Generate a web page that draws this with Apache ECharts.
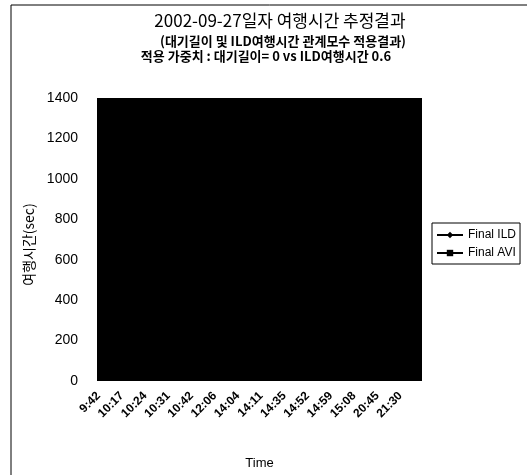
<!DOCTYPE html>
<html>
<head>
<meta charset="utf-8">
<script src="https://cdn.jsdelivr.net/npm/echarts@6/dist/echarts.min.js"></script>
<style>
  html, body { margin: 0; padding: 0; background: #fff; }
  #chart { width: 527px; height: 475px; }
</style>
</head>
<body>
<div id="chart"></div>
<script>
// 시간 구간 (x축 라벨)
const times = ["9:42", "10:17", "10:24", "10:31", "10:42", "12:06", "14:04",
  "14:11", "14:35", "14:52", "14:59", "15:08", "20:45", "21:30"];
// 여행시간 추정값 (sec)
const finalILD = [470, 1360, 120, 1350, 90, 1370, 60, 1320, 150, 1365, 80, 1360, 110, 1300];
const finalAVI = [370, 1290, 40, 1370, 30, 1310, 130, 1365, 40, 1280, 30, 1370, 50, 1350];
const yTicks = { min: 0, max: 1400, interval: 200 };

const chart = echarts.init(document.getElementById("chart"));
const latin = "'Liberation Sans', Arial, 'Noto Sans CJK KR', sans-serif";
const korean = "'Noto Sans CJK KR', 'Liberation Sans', sans-serif";

const option = {
  backgroundColor: "#fff",
  animation: false,
  graphic: [
    {
      type: "rect",
      shape: { x: 11, y: 5, width: 600, height: 600 },
      style: { fill: "none", stroke: "#000", lineWidth: 1 }
    },
    {
      type: "text", x: 280, y: 12,
      style: { text: "2002-09-27일자 여행시간 추정결과", font: "17px " + korean, fill: "#000", textAlign: "center" }
    },
    {
      type: "text", x: 283, y: 35,
      style: { text: "(대기길이 및 ILD여행시간 관계모수 적용결과)", font: "bold 13px " + korean, fill: "#000", textAlign: "center" }
    },
    {
      type: "text", x: 266, y: 50,
      style: { text: "적용 가중치 : 대기길이= 0 vs ILD여행시간 0.6", font: "bold 13px " + korean, fill: "#000", textAlign: "center" }
    }
  ],
  legend: {
    orient: "vertical",
    left: 432,
    top: 223,
    width: 85,
    borderColor: "#000",
    borderWidth: 1,
    padding: [6, 4, 5, 4],
    itemGap: 6,
    itemWidth: 26,
    itemHeight: 8,
    textStyle: { fontSize: 12, color: "#000", fontFamily: latin },
    data: ["Final ILD", "Final AVI"]
  },
  grid: {
    left: 97,
    right: 105,
    top: 98,
    bottom: 89,
    show: true,
    backgroundColor: "#000",
    borderWidth: 0
  },
  xAxis: {
    type: "category",
    data: times,
    boundaryGap: true,
    name: "Time",
    nameLocation: "middle",
    nameGap: 76,
    nameTextStyle: { fontSize: 13, color: "#000", fontFamily: latin },
    axisLine: { show: false },
    axisTick: { show: false },
    axisLabel: {
      rotate: 45,
      interval: 0,
      margin: 3,
      padding: [0, 14, 0, 0],
      fontSize: 12,
      fontWeight: "bold",
      color: "#000",
      fontFamily: latin
    }
  },
  yAxis: {
    type: "value",
    min: yTicks.min,
    max: yTicks.max,
    interval: yTicks.interval,
    name: "여행시간(sec)",
    nameLocation: "middle",
    nameGap: 58,
    nameTextStyle: { fontSize: 14, color: "#000", fontFamily: korean, padding: [0, 10, 0, 0] },
    axisLine: { show: false },
    axisTick: { show: false },
    splitLine: { show: false },
    axisLabel: {
      fontSize: 14,
      color: "#000",
      margin: 19,
      fontFamily: latin,
      formatter: v => String(v)
    }
  },
  series: [
    {
      name: "Final ILD",
      type: "line",
      data: finalILD,
      symbol: "diamond",
      symbolSize: 6,
      color: "#000",
      lineStyle: { color: "#000", width: 1 },
      itemStyle: { color: "#000" }
    },
    {
      name: "Final AVI",
      type: "line",
      data: finalAVI,
      symbol: "rect",
      symbolSize: 5,
      color: "#000",
      lineStyle: { color: "#000", width: 1 },
      itemStyle: { color: "#000" }
    }
  ]
};

chart.setOption(option);
</script>
</body>
</html>
